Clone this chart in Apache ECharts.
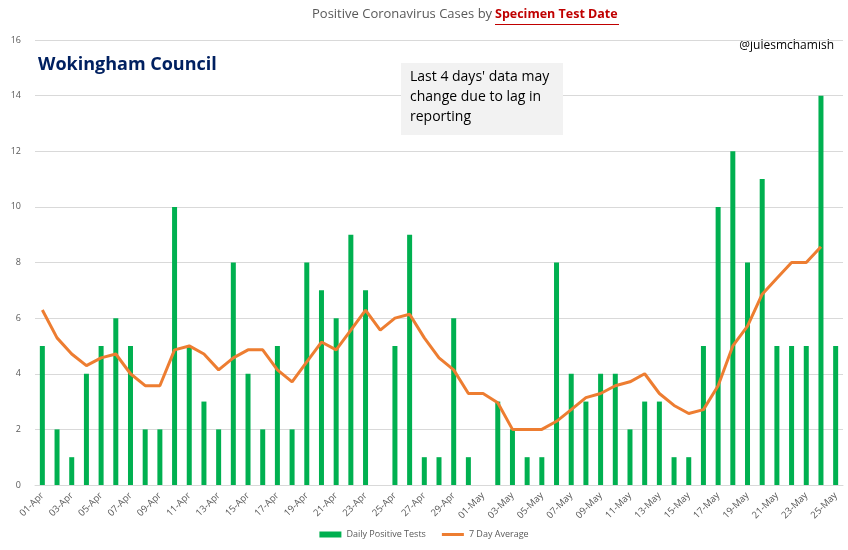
<!DOCTYPE html>
<html>
<head>
<meta charset="utf-8">
<script src="https://cdn.jsdelivr.net/npm/echarts@6/dist/echarts.min.js"></script>
<style>
  html, body { margin: 0; padding: 0; background: #fff; }
  #chart { width: 848px; height: 550px; }
</style>
</head>
<body>
<div id="chart"></div>
<script>
// dates 01-Apr .. 25-May
const days = [
  '01-Apr','02-Apr','03-Apr','04-Apr','05-Apr','06-Apr','07-Apr','08-Apr','09-Apr','10-Apr',
  '11-Apr','12-Apr','13-Apr','14-Apr','15-Apr','16-Apr','17-Apr','18-Apr','19-Apr','20-Apr',
  '21-Apr','22-Apr','23-Apr','24-Apr','25-Apr','26-Apr','27-Apr','28-Apr','29-Apr','30-Apr',
  '01-May','02-May','03-May','04-May','05-May','06-May','07-May','08-May','09-May','10-May',
  '11-May','12-May','13-May','14-May','15-May','16-May','17-May','18-May','19-May','20-May',
  '21-May','22-May','23-May','24-May','25-May'
]
const dailyTests = [
  5, 2, 1, 4, 5, 6, 5, 2, 2, 10,
  5, 3, 2, 8, 4, 2, 5, 2, 8, 7,
  6, 9, 7, 0, 5, 9, 1, 1, 6, 1,
  0, 3, 2, 1, 1, 8, 4, 3, 4, 4,
  2, 3, 3, 1, 1, 5, 10, 12, 8, 11,
  5, 5, 5, 14, 5
]
// last day has no average yet
const sevenDayAvg = [
  6.29, 5.29, 4.71, 4.29, 4.57, 4.71, 4.0, 3.57, 3.57, 4.86,
  5.0, 4.71, 4.14, 4.57, 4.86, 4.86, 4.14, 3.71, 4.43, 5.14,
  4.86, 5.57, 6.29, 5.57, 6.0, 6.14, 5.29, 4.57, 4.14, 3.29,
  3.29, 2.96, 2.0, 2.0, 2.0, 2.29, 2.71, 3.14, 3.29, 3.57,
  3.71, 4.0, 3.29, 2.86, 2.57, 2.71, 3.57, 5.0, 5.71, 6.86,
  7.43, 8.0, 8.0, 8.57, null
]
const yTicks = { min: 0, max: 16, step: 2 }

const chart = echarts.init(document.getElementById('chart'))
const baseFont = 'Open Sans, Liberation Sans, sans-serif'

chart.setOption({
  animation: false,
  textStyle: { fontFamily: baseFont },
  grid: { left: 35, right: 5, top: 40, bottom: 65 },
  legend: {
    bottom: 6,
    left: 'center',
    itemGap: 16,
    itemWidth: 22,
    itemHeight: 6,
    textStyle: { color: '#595959', fontSize: 9 },
    data: [
      { name: 'Daily Positive Tests', icon: 'rect' },
      { name: '7 Day Average', icon: 'path://M0,0H22V3H0Z' }
    ]
  },
  xAxis: {
    type: 'category',
    data: days,
    axisLine: { lineStyle: { color: '#d9d9d9' } },
    axisTick: { interval: 1, length: 4, lineStyle: { color: '#d9d9d9' } },
    axisLabel: {
      interval: 1,
      rotate: 45,
      color: '#595959',
      fontSize: 9.5,
      margin: 9
    }
  },
  yAxis: {
    type: 'value',
    min: yTicks.min,
    max: yTicks.max,
    interval: yTicks.step,
    axisLine: { show: false },
    axisTick: { show: false },
    axisLabel: { color: '#595959', fontSize: 9, margin: 14 },
    splitLine: { lineStyle: { color: '#d9d9d9' } }
  },
  graphic: [
    {
      type: 'text', left: 312, top: 8,
      style: { text: 'Positive Coronavirus Cases by', fill: '#595959', font: '13px ' + baseFont }
    },
    {
      type: 'text', left: 495, top: 8,
      style: { text: 'Specimen Test Date', fill: '#c00000', font: 'bold 12.5px ' + baseFont }
    },
    {
      type: 'rect', left: 495, top: 24, shape: { width: 124, height: 1 },
      style: { fill: '#c00000' }
    },
    {
      type: 'text', left: 38, top: 56,
      style: { text: 'Wokingham Council', fill: '#002060', font: 'bold 18px ' + baseFont }
    },
    {
      type: 'text', right: 14, top: 40,
      style: { text: '@julesmchamish', fill: '#000', font: '12px ' + baseFont }
    },
    {
      type: 'rect', left: 401, top: 63, z: 10,
      shape: { width: 162, height: 72 },
      style: { fill: '#f2f2f2' }
    },
    {
      type: 'text', left: 410, top: 67, z: 11,
      style: {
        text: "Last 4 days' data may\nchange due to lag in\nreporting",
        fill: '#000', font: '14px ' + baseFont, lineHeight: 20
      }
    }
  ],
  series: [
    {
      name: 'Daily Positive Tests',
      type: 'bar',
      data: dailyTests,
      barWidth: 5,
      itemStyle: { color: '#00b050' }
    },
    {
      name: '7 Day Average',
      type: 'line',
      data: sevenDayAvg,
      showSymbol: false,
      symbol: 'none',
      lineStyle: { color: '#ed7d31', width: 3 },
      itemStyle: { color: '#ed7d31' }
    }
  ]
})
</script>
</body>
</html>
